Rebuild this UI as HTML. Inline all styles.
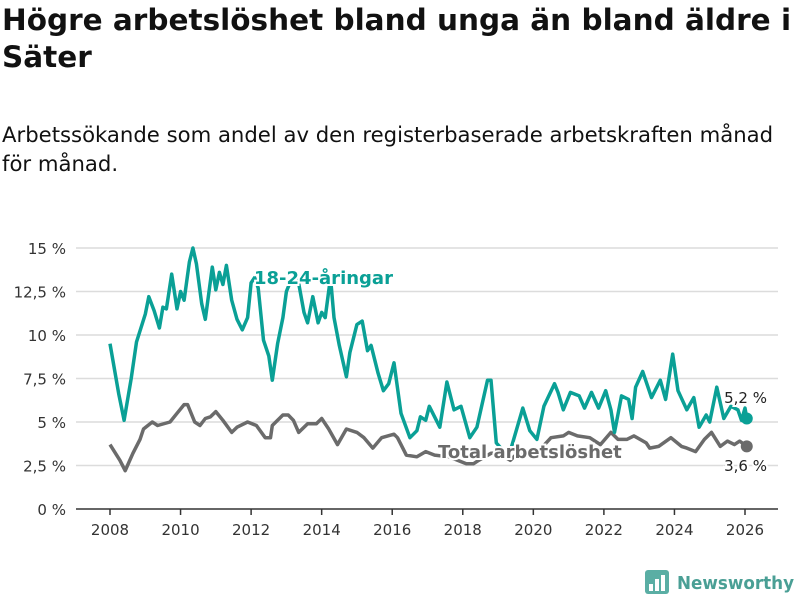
<!DOCTYPE html>
<html><head><meta charset="utf-8">
<style>
body{margin:0;width:800px;height:600px;background:#fff;font-family:"Liberation Sans","DejaVu Sans",sans-serif;overflow:hidden;position:relative;color:#111}
h1{position:absolute;left:2px;top:2px;margin:0;font-size:29.5px;line-height:37px;font-weight:bold;font-family:"DejaVu Sans",sans-serif}
p{position:absolute;left:2px;top:120px;margin:0;font-size:21.2px;line-height:29px;font-family:"DejaVu Sans",sans-serif}
svg{position:absolute;left:0;top:0}
</style></head><body>
<h1>Högre arbetslöshet bland unga än bland äldre i<br>Säter</h1>
<p>Arbetssökande som andel av den registerbaserade arbetskraften månad<br>för månad.</p>
<svg id="chart" width="800" height="600"></svg>
<script>
const yTicks=[0,2.5,5,7.5,10,12.5,15];
const yTickLabels=["0 %","2,5 %","5 %","7,5 %","10 %","12,5 %","15 %"];
const xTicks=[2008,2010,2012,2014,2016,2018,2020,2022,2024,2026];
const youthYears=[2008.0,2008.25,2008.4,2008.6,2008.75,2009.0,2009.1,2009.25,2009.4,2009.5,2009.6,2009.75,2009.9,2010.0,2010.1,2010.25,2010.35,2010.45,2010.6,2010.7,2010.9,2011.0,2011.1,2011.2,2011.3,2011.45,2011.6,2011.75,2011.9,2012.0,2012.1,2012.2,2012.35,2012.5,2012.6,2012.75,2012.9,2013.0,2013.1,2013.3,2013.5,2013.6,2013.75,2013.9,2014.0,2014.1,2014.25,2014.35,2014.5,2014.7,2014.8,2015.0,2015.15,2015.3,2015.4,2015.6,2015.75,2015.9,2016.05,2016.25,2016.5,2016.7,2016.8,2016.95,2017.05,2017.35,2017.55,2017.75,2017.95,2018.2,2018.4,2018.7,2018.8,2018.95,2019.3,2019.7,2019.9,2020.1,2020.3,2020.6,2020.7,2020.85,2021.05,2021.3,2021.45,2021.65,2021.85,2022.05,2022.2,2022.3,2022.5,2022.7,2022.8,2022.9,2023.1,2023.35,2023.6,2023.75,2023.95,2024.1,2024.35,2024.55,2024.7,2024.9,2025.0,2025.2,2025.4,2025.6,2025.8,2025.9,2026.0,2026.05];
const youthValues=[9.5,6.6,5.1,7.5,9.6,11.2,12.2,11.4,10.4,11.6,11.5,13.5,11.5,12.5,12.0,14.2,15.0,14.1,11.8,10.9,13.9,12.6,13.6,12.9,14.0,12.0,10.9,10.3,11.0,13.0,13.3,12.7,9.7,8.8,7.4,9.5,11.0,12.5,13.0,13.5,11.3,10.7,12.2,10.7,11.3,11.0,13.3,11.0,9.4,7.6,9.0,10.6,10.8,9.1,9.4,7.8,6.8,7.2,8.4,5.5,4.1,4.5,5.3,5.1,5.9,4.7,7.3,5.7,5.9,4.1,4.7,7.4,7.4,3.8,3.0,5.8,4.5,4.0,5.9,7.2,6.7,5.7,6.7,6.5,5.8,6.7,5.8,6.8,5.7,4.4,6.5,6.3,5.2,7.0,7.9,6.4,7.4,6.3,8.9,6.8,5.7,6.4,4.7,5.4,5.0,7.0,5.2,5.9,5.7,5.1,5.8,5.2];
const totalYears=[2008.0,2008.28,2008.43,2008.65,2008.85,2008.95,2009.2,2009.35,2009.7,2009.9,2010.1,2010.2,2010.4,2010.55,2010.7,2010.85,2011.0,2011.2,2011.45,2011.6,2011.9,2012.15,2012.4,2012.55,2012.6,2012.9,2013.05,2013.2,2013.35,2013.6,2013.85,2014.0,2014.2,2014.45,2014.7,2015.0,2015.2,2015.45,2015.7,2016.05,2016.15,2016.4,2016.7,2016.95,2017.2,2017.6,2018.1,2018.3,2018.45,2018.8,2019.0,2019.35,2019.6,2020.0,2020.5,2020.85,2021.0,2021.25,2021.6,2021.9,2022.2,2022.4,2022.65,2022.85,2023.2,2023.3,2023.55,2023.9,2024.2,2024.35,2024.6,2024.85,2025.05,2025.3,2025.5,2025.7,2025.85,2026.05];
const totalValues=[3.7,2.8,2.2,3.2,4.0,4.6,5.0,4.8,5.0,5.5,6.0,6.0,5.0,4.8,5.2,5.3,5.6,5.1,4.4,4.7,5.0,4.8,4.1,4.1,4.8,5.4,5.4,5.1,4.4,4.9,4.9,5.2,4.6,3.7,4.6,4.4,4.1,3.5,4.1,4.3,4.1,3.1,3.0,3.3,3.1,3.0,2.6,2.6,2.8,3.2,3.2,2.8,3.3,3.0,4.1,4.2,4.4,4.2,4.1,3.7,4.4,4.0,4.0,4.2,3.8,3.5,3.6,4.1,3.6,3.5,3.3,4.0,4.4,3.6,3.9,3.7,3.9,3.6];

const NS="http://www.w3.org/2000/svg";
const svg=document.getElementById('chart');
const X0=110,X1=745,Y0=509,Y15=248;
function xS(yr){return X0+(yr-2008)*(X1-X0)/18;}
function yS(v){return Y0-v*(Y0-Y15)/15;}
function mk(tag,attrs,parent){const e=document.createElementNS(NS,tag);for(const k in attrs)e.setAttribute(k,attrs[k]);(parent||svg).appendChild(e);return e;}

yTicks.forEach((t,i)=>{
  if(t>0){const g=mk('line',{x1:76,x2:778,y1:yS(t),y2:yS(t),stroke:'#dcdcdc','stroke-width':1.5});
  
  }
  const tx=mk('text',{x:66,y:yS(t)+6,'text-anchor':'end','font-size':15,fill:'#333','font-family':'DejaVu Sans, sans-serif'});
  tx.textContent=yTickLabels[i];
  
  
});
const ax=mk('line',{x1:76,x2:778,y1:Y0,y2:Y0,stroke:'#333','stroke-width':1.5});


xTicks.forEach(t=>{
  mk('line',{x1:xS(t),x2:xS(t),y1:Y0,y2:Y0+6,stroke:'#333','stroke-width':1.5});
  const tx=mk('text',{x:xS(t),y:Y0+26,'text-anchor':'middle','font-size':15,fill:'#333','font-family':'DejaVu Sans, sans-serif'});
  tx.textContent=t;
  
  
});
function line(xs,vs,color,name){
  const d=xs.map((x,i)=>(i?'L':'M')+xS(x).toFixed(1)+','+yS(vs[i]).toFixed(1)).join('');
  const p=mk('path',{d:d,fill:'none',stroke:color,'stroke-width':3.5,'stroke-linejoin':'round'});
  
  
  const n=xs.length-1;
  const c=mk('circle',{cx:xS(xs[n]),cy:yS(vs[n]),r:6,fill:color});
  
  
}
line(totalYears,totalValues,'#6b6b6b','total-line');
line(youthYears,youthValues,'#0aa096','youth-line');
function label(txt,x,y,color,size,weight,anchor,name){
  const t=mk('text',{x:x,y:y,'font-size':size,'font-weight':weight,fill:color,'text-anchor':anchor,stroke:'#fff','stroke-width':4,'paint-order':'stroke','font-family':'DejaVu Sans, sans-serif'});
  t.textContent=txt;
  
  
}
label('18-24-åringar',254,284,'#0aa096',18,'bold','start','youth-series-label');
label('Total arbetslöshet',438,458,'#6b6b6b',18,'bold','start','total-series-label');
label(youthValues[youthValues.length-1].toFixed(1).replace('.',',')+' %',767,403,'#222',15,'normal','end','youth-end-value');
label(totalValues[totalValues.length-1].toFixed(1).replace('.',',')+' %',767,471,'#222',15,'normal','end','total-end-value');
// logo
const lg=mk('g',{});


mk('rect',{x:645,y:570,width:24,height:24,rx:3,fill:'#5aaea4'},lg);
[[649,584,4,7],[655,579,4,12],[661,575,4,16]].forEach(b=>mk('rect',{x:b[0],y:b[1],width:b[2],height:b[3],fill:'#fff'},lg));
const lt=mk('text',{x:677,y:589,'font-size':18,'font-weight':'bold',fill:'#4a9f95','font-family':'DejaVu Sans, sans-serif',textLength:117,lengthAdjust:'spacingAndGlyphs'},lg);
lt.textContent='Newsworthy';
</script>
</body></html>
